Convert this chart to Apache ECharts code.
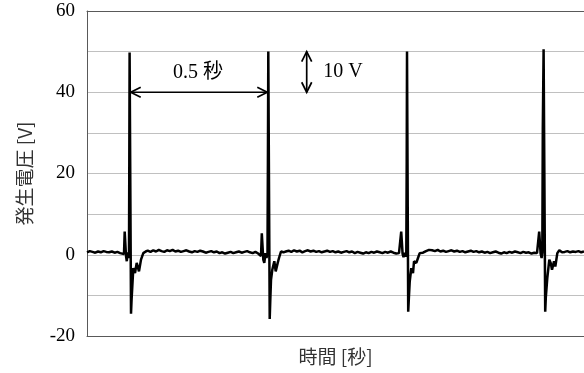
<!DOCTYPE html>
<html>
<head>
<meta charset="utf-8">
<script src="https://cdn.jsdelivr.net/npm/echarts@6/dist/echarts.min.js"></script>
<style>
html,body{margin:0;padding:0;background:#fff;}
#chart{width:584px;height:373px;}
</style>
</head>
<body>
<div id="chart"></div>
<script>
// ---- Data (time in ms, voltage in V) ----
const baselineStep = 10;
const segAStart = 0;
const segAVals = [0.6,0.9,0.7,0.5,0.8,0.6,0.9,0.7,0.6,0.8,0.5,0.7,0.4];
const pulse1T = [126.8,134.0,136.5,139.4,141.3,144.1,146.7,149.9,152.1,153.2,154.3,156.8,159.4,161.5,164.1,167.7,173.9,180.0,188.3,195.6,203.9,212.6];
const pulse1V = [0.7,0.2,5.7,5.5,-0.3,-1.6,0.6,-0.8,0.5,23,49.8,49.6,-14.5,-11,-7.8,-3.3,-4.5,-2,-4.1,-1.2,0.4,0.8];
const segBStart = 220;
const segBVals = [1.0,0.7,1.1,0.8,1.2,0.9,0.7,1.1,0.9,1.2,0.8,1.0,0.7,0.9,1.1,0.8,0.6,0.9,0.7,1.0,0.8,0.5,0.7,0.9,0.6,0.8,0.4,0.6,0.3,0.5,0.7,0.4,0.6,0.8,0.5,0.7,0.9,0.6,0.4,0.7,0.3];
const pulse2T = [626.6,630.2,633.1,636.4,638.5,642.1,646.5,650.1,653.7,655.2,656.6,659.2,661.7,663.9,666.4,671.1,678.4,683.4,690.7,695.4,702.6,711.7];
const pulse2V = [0.5,-0.3,5.3,5.0,-1.2,-2.0,0.4,-0.8,0.3,23,50,49.8,-15.8,-11,-6.2,-3.7,-1.6,-4.1,-2,-0.8,0.8,0.6];
const segCStart = 720;
const segCVals = [0.8,1.0,0.7,1.1,0.8,1.0,0.6,0.9,1.1,0.8,1.0,0.7,0.9,0.6,0.8,1.0,0.7,0.9,0.6,0.8,0.5,0.7,0.9,0.6,0.8,0.4,0.7,0.5,0.3,0.6,0.4,0.7,0.5,0.8,0.6,0.4,0.7,0.5,0.8,0.5,0.3];
const pulse3T = [1130.0,1135.4,1138.0,1140.9,1143.0,1146.3,1149.9,1153.5,1156.4,1157.9,1159.0,1161.5,1163.3,1165.5,1168.8,1174.6,1180.7,1184.4,1192.7,1198.8,1205.0,1216.9,1227.8,1238.7];
const pulse3V = [0.4,0.3,5.7,5.4,0.2,-0.6,0.5,-0.5,0.4,23,50,49.8,-14,-11,-6.6,-3.3,-4.5,-1.6,-2,-0.8,0.4,0.5,0.9,1.2];
const segDStart = 1250;
const segDVals = [1.1,0.9,1.2,0.8,1.0,0.7,0.9,1.1,0.8,1.0,0.7,0.9,0.6,0.8,1.0,0.7,0.9,0.6,0.8,0.5,0.7,0.4,0.6,0.8,0.5,0.3,0.6,0.4,0.7,0.5,0.8,0.6,0.4,0.7,0.5,0.6,0.3,0.5];
const pulse4T = [1629.8,1635.2,1637.7,1640.7,1642.8,1646.5,1649.0,1650.8,1653.7,1657.3,1659.5,1661.7,1667.1,1674.4,1679.4,1684.1,1691.4,1696.1,1703.4,1710.6,1720.4];
const pulse4V = [0.4,0.0,5.7,5.4,0.3,-0.8,0.6,31,50.6,50.3,-14,-10.5,-5.7,-1.2,-2,-3.7,-1.6,-2.9,0.4,1.1,0.6];
const segEStart = 1730;
const segEVals = [0.7,0.9,0.6,0.8,0.7,0.9,0.6,0.8];

const yTicks = [-20, 0, 20, 40, 60];
const yTitle = '発生電圧 [V]';
const xTitle = '時間 [秒]';
// annotation arrows: [x1, y1, x2, y2] in data units
const arrowSpans = [[158.3, 40, 653.0, 40], [795.7, 50, 795.7, 40]];
const annoTexts = ['0.5 秒', '10 V'];
const annoX = [402, 927];
const annoY = [44.8, 45.0];

// ---- Build series data ----
function seg(start, vals) { return vals.map((v, i) => [start + i * baselineStep, v]); }
function pulse(ts, vs) { return ts.map((t, i) => [t, vs[i]]); }
const wave = [].concat(
  seg(segAStart, segAVals), pulse(pulse1T, pulse1V),
  seg(segBStart, segBVals), pulse(pulse2T, pulse2V),
  seg(segCStart, segCVals), pulse(pulse3T, pulse3V),
  seg(segDStart, segDVals), pulse(pulse4T, pulse4V),
  seg(segEStart, segEVals)
);

const chart = echarts.init(document.getElementById('chart'), null, {renderer: 'canvas'});
const serif = '"Liberation Serif","Times New Roman",serif';
const sans = '"Noto Sans CJK JP","Noto Sans",sans-serif';

function chevron(tip, ux, uy, L, W) {
  const nx = -uy, ny = ux;
  return [[tip[0] - ux * L + nx * W, tip[1] - uy * L + ny * W], tip, [tip[0] - ux * L - nx * W, tip[1] - uy * L - ny * W]];
}

chart.setOption({
  animation: false,
  backgroundColor: '#fff',
  grid: {left: 87, right: 0, top: 11, bottom: 37},
  xAxis: [{
    type: 'value', min: 0, max: 1800,
    axisLine: {show: true, onZero: false, lineStyle: {color: '#595959', width: 1}},
    axisTick: {show: false}, axisLabel: {show: false}, splitLine: {show: false},
    name: xTitle, nameLocation: 'middle', nameGap: 11,
    nameTextStyle: {fontFamily: sans, fontSize: 19, color: '#333'}
  }, {
    type: 'value', min: 0, max: 1800, position: 'top',
    axisLine: {show: true, onZero: false, lineStyle: {color: '#595959', width: 1}},
    axisTick: {show: false}, axisLabel: {show: false}, splitLine: {show: false}
  }],
  yAxis: {
    type: 'value', min: -20, max: 60, interval: 10,
    axisLine: {show: true, onZero: false, lineStyle: {color: '#595959', width: 1}},
    axisTick: {show: false},
    axisLabel: {
      margin: 12, fontFamily: serif, fontSize: 19, color: '#000',
      formatter: v => (yTicks.indexOf(v) >= 0 ? String(v) : '')
    },
    splitLine: {show: true, lineStyle: {color: '#c0c0c0', width: 1}},
    name: yTitle, nameLocation: 'middle', nameGap: 53, nameRotate: 90,
    nameTextStyle: {fontFamily: sans, fontSize: 19, color: '#333'}
  },
  series: [{
    type: 'line', data: wave, showSymbol: false, symbol: 'none',
    lineStyle: {color: '#000', width: 2.5}, silent: true, z: 3
  }, {
    type: 'custom', silent: true, z: 4,
    data: arrowSpans,
    renderItem: function (params, api) {
      const p1 = api.coord([api.value(0), api.value(1)]);
      const p2 = api.coord([api.value(2), api.value(3)]);
      const dx = p2[0] - p1[0], dy = p2[1] - p1[1];
      const len = Math.sqrt(dx * dx + dy * dy);
      const ux = dx / len, uy = dy / len;
      const st = {stroke: '#000', lineWidth: 1.7, fill: null};
      return {type: 'group', children: [
        {type: 'line', shape: {x1: p1[0], y1: p1[1], x2: p2[0], y2: p2[1]}, style: st},
        {type: 'polyline', shape: {points: chevron(p2, ux, uy, 10, 5)}, style: st},
        {type: 'polyline', shape: {points: chevron(p1, -ux, -uy, 10, 5)}, style: st}
      ]};
    }
  }, {
    type: 'custom', silent: true, z: 5,
    data: annoTexts.map((t, i) => [annoX[i], annoY[i], i]),
    renderItem: function (params, api) {
      const p = api.coord([api.value(0), api.value(1)]);
      return {type: 'text', x: p[0], y: p[1], style: {
        text: annoTexts[api.value(2)], fill: '#000', font: '20px ' + serif + ',"Noto Sans CJK JP"',
        align: 'center', verticalAlign: 'middle'
      }};
    }
  }]
});
</script>
</body>
</html>
